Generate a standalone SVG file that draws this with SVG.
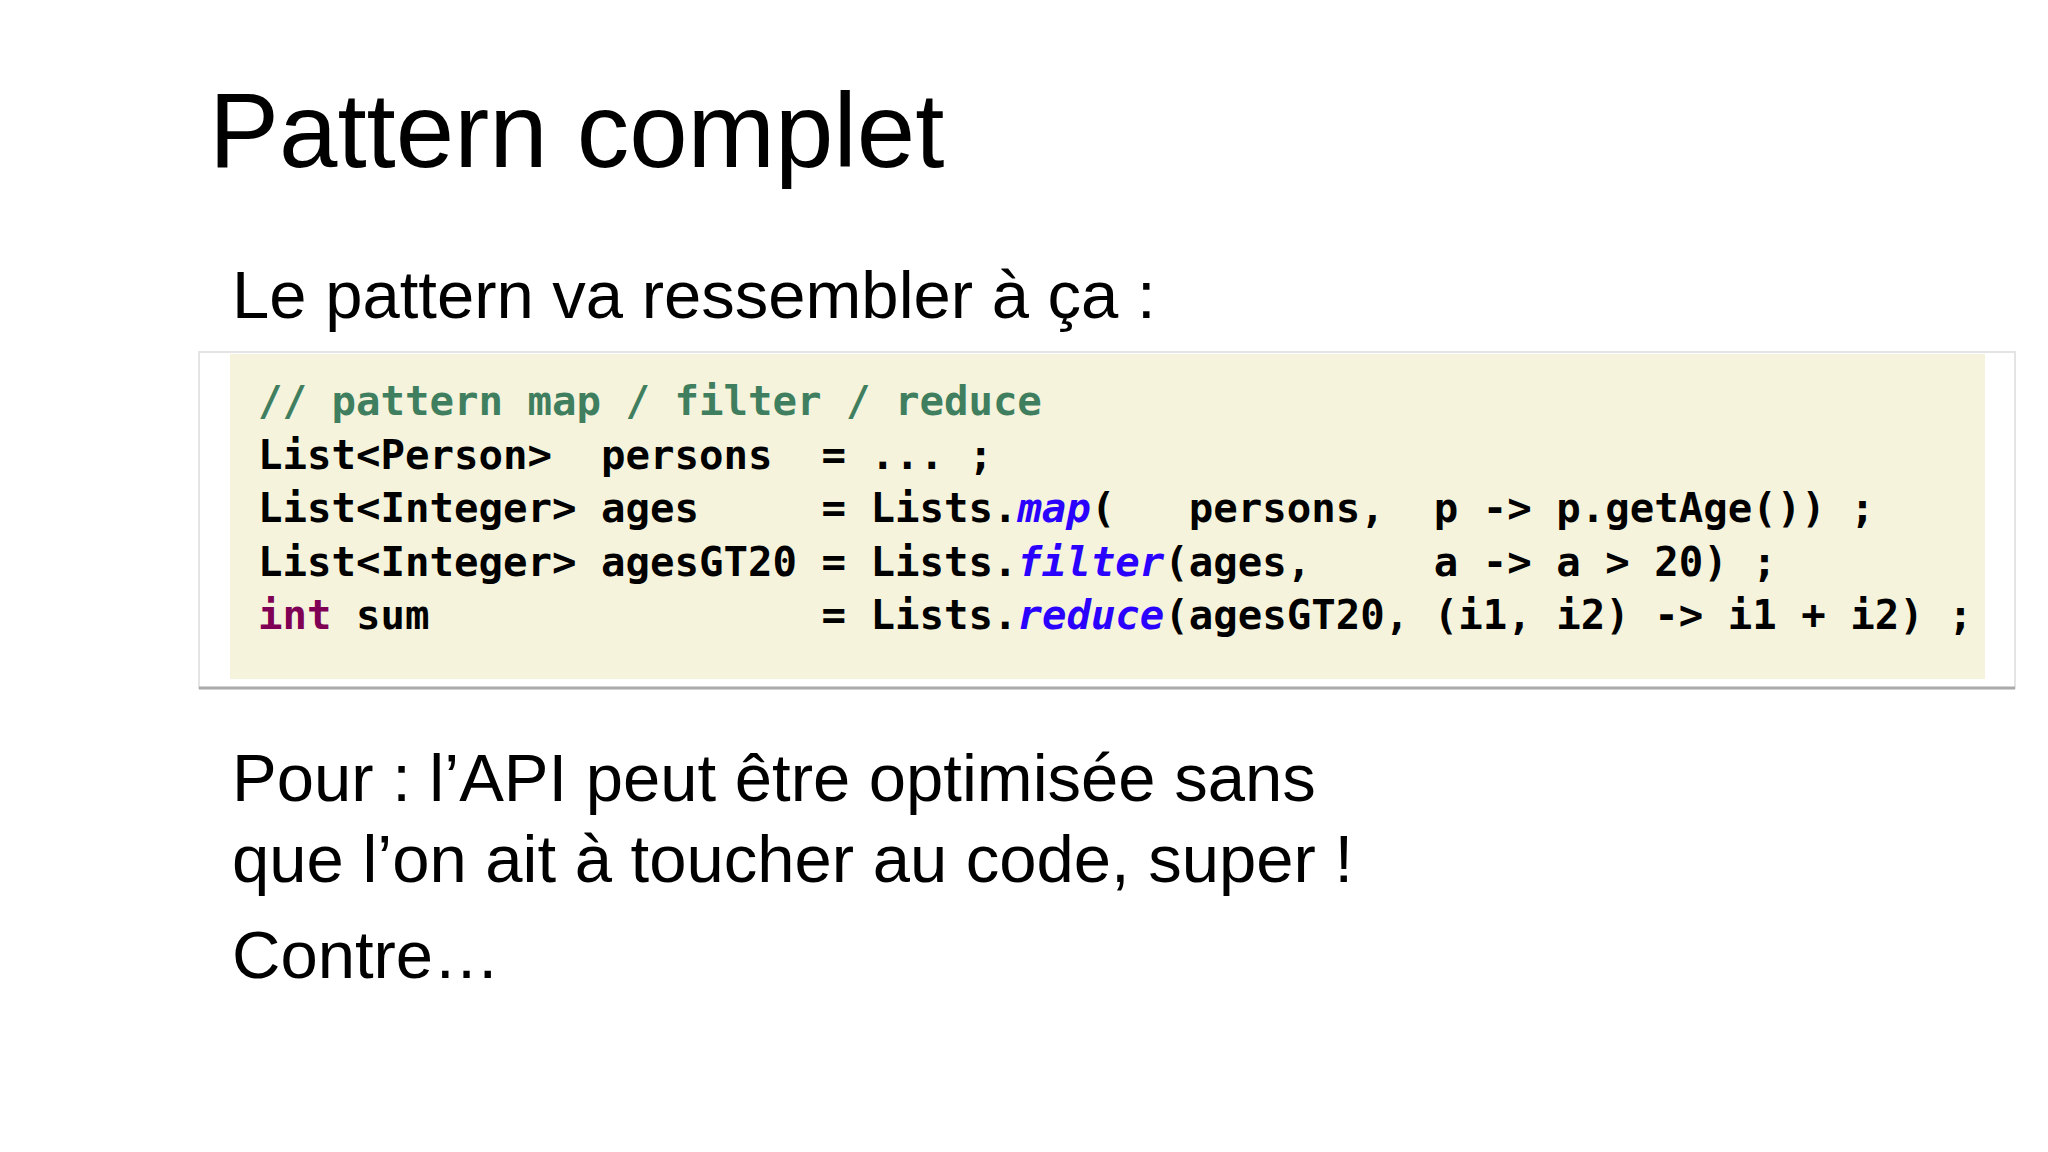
<svg xmlns="http://www.w3.org/2000/svg" width="2048" height="1152" viewBox="0 0 2048 1152">
<style>
.t{font-family:"Liberation Sans",Arial,sans-serif;fill:#000}
.c{font-family:"DejaVu Sans Mono","Liberation Mono",monospace;font-weight:bold;font-size:40.7px;fill:#000;white-space:pre}
.cm{fill:#3f7f5f}.kw{fill:#7f0055}.m{fill:#2a00ff;font-style:italic}
</style>
<rect width="2048" height="1152" fill="#fff"/>
<text class="t" x="209" y="167" font-size="105">Pattern complet</text>
<text class="t" x="232" y="318" font-size="67">Le pattern va ressembler à ça :</text>
<g id="codebox">
<rect x="199" y="352" width="1816" height="336" fill="#fff" stroke="#e4e4e4" stroke-width="2"/>
<line x1="199" y1="688" x2="2015" y2="688" stroke="#aaa" stroke-width="3"/>
<rect x="230" y="354" width="1755" height="325" fill="#f5f3dc"/>
<text class="c" xml:space="preserve" x="258" y="415"><tspan class="cm">// pattern map / filter / reduce</tspan></text>
<text class="c" xml:space="preserve" x="258" y="469">List&lt;Person&gt;  persons  = ... ;</text>
<text class="c" xml:space="preserve" x="258" y="522">List&lt;Integer&gt; ages     = Lists.<tspan class="m">map</tspan>(   persons,  p -&gt; p.getAge()) ;</text>
<text class="c" xml:space="preserve" x="258" y="576">List&lt;Integer&gt; agesGT20 = Lists.<tspan class="m">filter</tspan>(ages,     a -&gt; a &gt; 20) ;</text>
<text class="c" xml:space="preserve" x="258" y="629"><tspan class="kw">int</tspan> sum                = Lists.<tspan class="m">reduce</tspan>(agesGT20, (i1, i2) -&gt; i1 + i2) ;</text>
</g>
<text class="t" x="232" y="801" font-size="67">Pour : l’API peut être optimisée sans</text>
<text class="t" x="232" y="882" font-size="67">que l’on ait à toucher au code, super !</text>
<text class="t" x="232" y="978" font-size="67">Contre…</text>
</svg>
